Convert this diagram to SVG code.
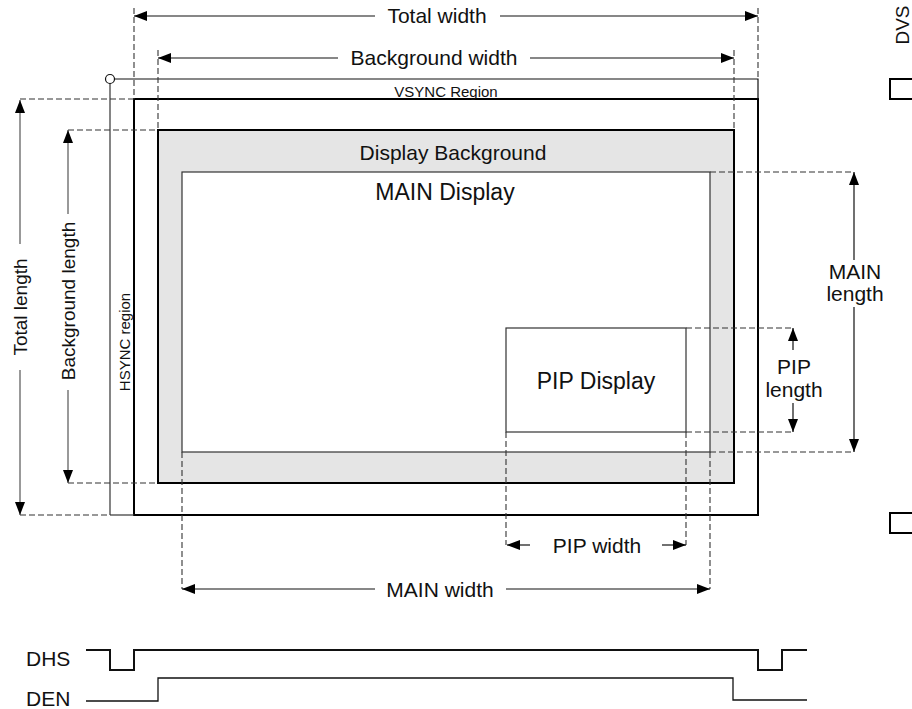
<svg xmlns="http://www.w3.org/2000/svg" width="912" height="709" viewBox="0 0 912 709">
<defs>
<marker id="ah" markerUnits="userSpaceOnUse" markerWidth="14" markerHeight="12" refX="13" refY="6" orient="auto">
<path d="M0,1 L13,6 L0,11 Z" fill="#000"/>
</marker>
<style>
text{font-family:"Liberation Sans",Arial,sans-serif;fill:#111}
.t19{font-size:19px}
.t21{font-size:21px}
.t23{font-size:23px}
.t15{font-size:15px}
.dash{stroke:#333;stroke-width:1.1;stroke-dasharray:6,3;fill:none}
.dim{stroke:#111;stroke-width:1.2;fill:none}
.dimg{stroke:#555;stroke-width:1.2;fill:none}
</style>
</defs>
<rect width="912" height="709" fill="#fff"/>

<g id="outer-frame">
<rect x="134" y="99" width="624" height="416" fill="none" stroke="#000" stroke-width="2"/>
<polyline points="114,79 758,79 758,99" fill="none" stroke="#111" stroke-width="1.2"/>
<line x1="110" y1="83" x2="110" y2="515" stroke="#333" stroke-width="1.2"/>
<circle cx="110" cy="79" r="4.5" fill="#fff" stroke="#111" stroke-width="1.2"/>
<text class="t15" x="446" y="97" text-anchor="middle">VSYNC Region</text>
<text class="t15" transform="translate(130,342) rotate(-90)" text-anchor="middle">HSYNC region</text>
</g>

<g id="display-background">
<rect x="158" y="130" width="576" height="353" fill="#e5e5e5" stroke="#000" stroke-width="2"/>
<text class="t21" x="453" y="160" text-anchor="middle">Display Background</text>
</g>

<g id="main-display">
<rect x="182" y="172" width="528" height="280" fill="#fff" stroke="#333" stroke-width="1.2"/>
<text class="t23" x="445" y="200" text-anchor="middle">MAIN Display</text>
</g>

<g id="pip-display">
<rect x="506" y="328" width="180" height="104" fill="#fff" stroke="#333" stroke-width="1.2"/>
<text class="t23" x="596" y="389" text-anchor="middle">PIP Display</text>
</g>

<g id="connectors">
<line class="dash" x1="134" y1="8" x2="134" y2="99"/>
<line class="dash" x1="758" y1="8" x2="758" y2="79"/>
<line class="dash" x1="158" y1="50" x2="158" y2="130"/>
<line class="dash" x1="734" y1="50" x2="734" y2="130"/>
<line class="dash" x1="20" y1="99" x2="134" y2="99"/>
<line class="dash" x1="20" y1="515" x2="110" y2="515"/>
<line x1="110" y1="515" x2="134" y2="515" stroke="#333" stroke-width="1.2"/>
<line class="dash" x1="68" y1="130" x2="158" y2="130"/>
<line class="dash" x1="68" y1="483" x2="158" y2="483"/>
<line class="dash" x1="710" y1="172" x2="854" y2="172"/>
<line class="dash" x1="710" y1="452" x2="854" y2="452"/>
<line class="dash" x1="686" y1="328" x2="793" y2="328"/>
<line class="dash" x1="686" y1="432" x2="793" y2="432"/>
<line class="dash" x1="182" y1="452" x2="182" y2="589"/>
<line class="dash" x1="710" y1="452" x2="710" y2="589"/>
<line class="dash" x1="506" y1="432" x2="506" y2="545"/>
<line class="dash" x1="686" y1="432" x2="686" y2="545"/>

<line class="dim" x1="375" y1="16" x2="134" y2="16" marker-end="url(#ah)"/>
<line class="dim" x1="500" y1="16" x2="758" y2="16" marker-end="url(#ah)"/>
<line class="dim" x1="338" y1="58" x2="158" y2="58" marker-end="url(#ah)"/>
<line class="dim" x1="530" y1="58" x2="734" y2="58" marker-end="url(#ah)"/>
<line class="dimg" x1="20" y1="244" x2="20" y2="100" marker-end="url(#ah)"/>
<line class="dimg" x1="20" y1="370" x2="20" y2="515" marker-end="url(#ah)"/>
<line class="dimg" x1="68" y1="214" x2="68" y2="130" marker-end="url(#ah)"/>
<line class="dimg" x1="68" y1="390" x2="68" y2="483" marker-end="url(#ah)"/>
<line class="dim" x1="854" y1="260" x2="854" y2="172" marker-end="url(#ah)"/>
<line class="dim" x1="854" y1="307" x2="854" y2="452" marker-end="url(#ah)"/>
<line class="dim" x1="793" y1="350" x2="793" y2="328" marker-end="url(#ah)"/>
<line class="dim" x1="793" y1="403" x2="793" y2="432" marker-end="url(#ah)"/>
<line class="dim" x1="530" y1="545" x2="507" y2="545" marker-end="url(#ah)"/>
<line class="dim" x1="662" y1="545" x2="686" y2="545" marker-end="url(#ah)"/>
<line class="dim" x1="375" y1="589" x2="182" y2="589" marker-end="url(#ah)"/>
<line class="dim" x1="506" y1="589" x2="710" y2="589" marker-end="url(#ah)"/>
</g>

<g id="dimension-labels">
<text class="t21" x="437" y="23" text-anchor="middle">Total width</text>
<text class="t21" x="434" y="65" text-anchor="middle">Background width</text>
<text class="t19" transform="translate(27,307) rotate(-90)" text-anchor="middle">Total length</text>
<text class="t19" transform="translate(75,301) rotate(-90)" text-anchor="middle">Background length</text>
<text class="t21" x="855" y="279" text-anchor="middle">MAIN</text>
<text class="t21" x="855" y="301" text-anchor="middle">length</text>
<text class="t21" x="794" y="374" text-anchor="middle">PIP</text>
<text class="t21" x="794" y="397" text-anchor="middle">length</text>
<text class="t21" x="597" y="553" text-anchor="middle">PIP width</text>
<text class="t21" x="440" y="597" text-anchor="middle">MAIN width</text>
</g>

<g id="dvs">
<text class="t19" transform="translate(909,25) rotate(-90)" text-anchor="middle">DVS</text>
<rect x="890" y="79" width="30" height="20" fill="none" stroke="#000" stroke-width="2"/>
<rect x="890" y="513" width="30" height="20" fill="none" stroke="#000" stroke-width="2"/>
</g>

<g id="timing">
<text class="t21" x="26" y="666">DHS</text>
<text class="t21" x="26" y="706">DEN</text>
<polyline points="86,650 110,650 110,670 134,670 134,650 758,650 758,670 782,670 782,650 807,650" fill="none" stroke="#111" stroke-width="2"/>
<polyline points="86,701 158,701 158,678 733,678 733,700 807,700" fill="none" stroke="#111" stroke-width="1.3"/>
</g>
</svg>
